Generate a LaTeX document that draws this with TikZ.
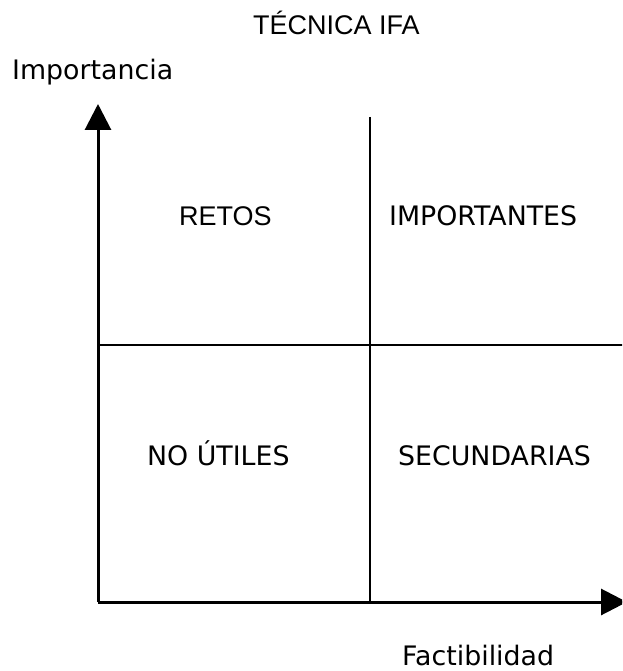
\documentclass[tikz,border=0pt]{standalone}
\usepackage{fontspec}
\setmainfont{DejaVu Sans}
\newfontfamily\arialfont{Liberation Sans}
\usetikzlibrary{arrows.meta}
\tikzset{
  axisline/.style={line width=3pt, -{Triangle[length=26pt,width=26pt]}},
  divider/.style={line width=2pt},
  midline/.style={line width=1.6pt},
  vlabel/.style={anchor=base west, inner sep=0pt, font=\fontsize{26.8}{30}\selectfont},
  alabel/.style={anchor=base west, inner sep=0pt, font=\arialfont\fontsize{27}{30}\selectfont},
}
\begin{document}
\begin{tikzpicture}[x=1pt,y=-1pt]
\useasboundingbox (0,0) rectangle (622,671);
\clip (0,0) rectangle (622,671);
\coordinate (O) at (98,602);
\coordinate (ytop) at (98,104);
\coordinate (xend) at (627,602);
\coordinate (vt) at (370,117);
\coordinate (vb) at (370,602);
\coordinate (hl) at (98,345);
\coordinate (hr) at (624,345);
\draw[midline] (hl) -- (hr);
\draw[divider] (vt) -- (vb);
\draw[axisline] (O) -- (ytop);
\draw[axisline] (O) -- (xend);
\node[alabel] (title) at (253,35) {TÉCNICA IFA};
\node[vlabel] (imp) at (12,80) {Importancia};
\node[vlabel] (fac) at (402,665) {Factibilidad};
\node[alabel] (retos) at (179,225) {RETOS};
\node[vlabel] (importantes) at (389,225) {IMPORTANTES};
\node[vlabel] (noutiles) at (147,465) {NO ÚTILES};
\node[vlabel] (secund) at (398,465) {SECUNDARIAS};
\end{tikzpicture}
\end{document}
